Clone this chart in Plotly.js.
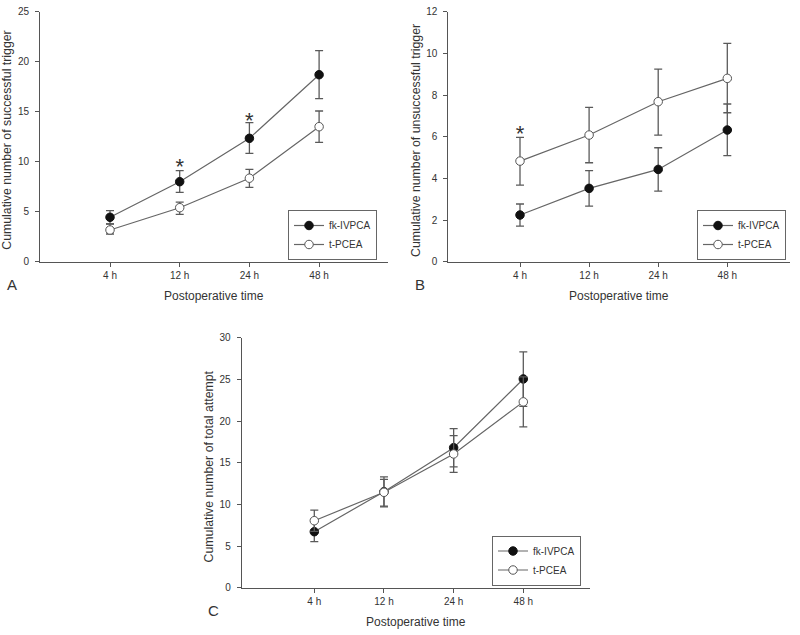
<!DOCTYPE html>
<html>
<head>
<meta charset="utf-8">
<script src="https://cdn.plot.ly/plotly-3.0.1.min.js"></script>
<style>html,body{margin:0;padding:0;background:#fff}#chart{width:800px;height:635px}</style>
</head>
<body>
<div id="chart"></div>
<script>
// ---------- data ----------
const categories = ['4 h', '12 h', '24 h', '48 h'];
const seriesNames = ['fk-IVPCA', 't-PCEA'];

// Panel A: successful trigger
const A_fk_mean  = [4.44, 8.00, 12.34, 18.70];
const A_fk_upper = [5.10, 9.10, 13.90, 21.10];
const A_fk_lower = [3.78, 6.94, 10.84, 16.30];
const A_t_mean   = [3.17, 5.40, 8.35, 13.50];
const A_t_upper  = [3.77, 5.96, 9.24, 15.07];
const A_t_lower  = [2.77, 4.74, 7.44, 11.94];
const A_sig_x = ['12 h', '24 h'];
const A_sig_y = [9.3, 13.9];

// Panel B: unsuccessful trigger
const B_fk_mean  = [2.24, 3.52, 4.43, 6.32];
const B_fk_upper = [2.77, 4.37, 5.47, 7.57];
const B_fk_lower = [1.71, 2.67, 3.39, 5.09];
const B_t_mean   = [4.83, 6.08, 7.68, 8.80];
const B_t_upper  = [5.97, 7.41, 9.24, 10.48];
const B_t_lower  = [3.68, 4.75, 6.08, 7.15];
const B_sig_x = ['4 h'];
const B_sig_y = [6.05];

// Panel C: total attempt
const C_fk_mean  = [6.72, 11.52, 16.80, 25.05];
const C_fk_upper = [7.92, 13.30, 19.10, 28.30];
const C_fk_lower = [5.52, 9.70, 14.50, 21.75];
const C_t_mean   = [8.04, 11.45, 16.05, 22.30];
const C_t_upper  = [9.32, 13.00, 18.25, 25.30];
const C_t_lower  = [6.76, 9.80, 13.85, 19.30];

const yTicksA = [0, 5, 10, 15, 20, 25];
const yTicksB = [0, 2, 4, 6, 8, 10, 12];
const yTicksC = [0, 5, 10, 15, 20, 25, 30];

const yTitles = ['Cumulative number of successful trigger',
                 'Cumulative number of unsuccessful trigger',
                 'Cumulative number of total attempt'];
const xTitle = 'Postoperative time';
const panelLetters = ['A', 'B', 'C'];

// ---------- styling ----------
const W = 800, H = 635;
const FONT = 'Liberation Sans, Arial, Helvetica, sans-serif';
const lineCol = '#666';
const axisCol = '#555';
const textCol = '#333';

function px2x(p) { return p / W; }
function px2y(p) { return 1 - p / H; }

function errTrace(mean, upper, lower, filled, xa, ya, leg, name) {
  return {
    type: 'scatter', mode: 'lines+markers', name: name,
    x: categories, y: mean, xaxis: xa, yaxis: ya, legend: leg,
    line: {color: lineCol, width: 1.2},
    marker: {size: 8.5, symbol: 'circle',
             color: filled ? '#111' : '#fff',
             line: {color: filled ? '#111' : '#555', width: 1}},
    error_y: {type: 'data', symmetric: false,
              array: upper.map((u, i) => u - mean[i]),
              arrayminus: mean.map((m, i) => m - lower[i]),
              color: '#5a5a5a', thickness: 1.3, width: 4},
    hoverinfo: 'skip'
  };
}
function sigTrace(xs, ys, xa, ya) {
  return {type: 'scatter', mode: 'text', x: xs, y: ys, text: xs.map(() => '*'),
          textposition: 'middle center', xaxis: xa, yaxis: ya, showlegend: false,
          textfont: {family: FONT, size: 22, color: '#333'}, hoverinfo: 'skip'};
}

const traces = [
  errTrace(A_fk_mean, A_fk_upper, A_fk_lower, true,  'x',  'y',  'legend',  seriesNames[0]),
  errTrace(A_t_mean,  A_t_upper,  A_t_lower,  false, 'x',  'y',  'legend',  seriesNames[1]),
  sigTrace(A_sig_x, A_sig_y, 'x', 'y'),
  errTrace(B_fk_mean, B_fk_upper, B_fk_lower, true,  'x2', 'y2', 'legend2', seriesNames[0]),
  errTrace(B_t_mean,  B_t_upper,  B_t_lower,  false, 'x2', 'y2', 'legend2', seriesNames[1]),
  sigTrace(B_sig_x, B_sig_y, 'x2', 'y2'),
  errTrace(C_fk_mean, C_fk_upper, C_fk_lower, true,  'x3', 'y3', 'legend3', seriesNames[0]),
  errTrace(C_t_mean,  C_t_upper,  C_t_lower,  false, 'x3', 'y3', 'legend3', seriesNames[1])
];

// panel geometry in pixels: left, right, top, bottom of axes; first-tick px & spacing
const panels = [
  {L: 40,    R: 388, T: 11.7,  B: 261.7, t0: 110,   s: 69.7,  ymax: 25, ticks: yTicksA},
  {L: 448.3, R: 790, T: 11.7,  B: 261.7, t0: 520,   s: 69.1,  ymax: 12, ticks: yTicksB},
  {L: 241.7, R: 590, T: 337.7, B: 587.7, t0: 314.3, s: 69.67, ymax: 30, ticks: yTicksC}
];

const layout = {
  width: W, height: H, margin: {l: 0, r: 0, t: 0, b: 0},
  paper_bgcolor: '#fff', plot_bgcolor: '#fff',
  font: {family: FONT, size: 10, color: textCol},
  showlegend: true,
  annotations: []
};

panels.forEach((p, i) => {
  const sfx = i === 0 ? '' : String(i + 1);
  layout['xaxis' + sfx] = {
    type: 'category', domain: [px2x(p.L), px2x(p.R)],
    range: [(p.L - p.t0) / p.s, (p.R - p.t0) / p.s],
    anchor: 'y' + sfx, showline: true, linecolor: axisCol, linewidth: 1,
    ticks: 'outside', ticklen: 4, tickcolor: axisCol, tickwidth: 1,
    showgrid: false, zeroline: false, fixedrange: true,
    tickfont: {family: FONT, size: 10, color: textCol}
  };
  layout['yaxis' + sfx] = {
    domain: [px2y(p.B), px2y(p.T)], range: [0, p.ymax],
    anchor: 'x' + sfx, showline: true, linecolor: axisCol, linewidth: 1,
    ticks: 'outside', ticklen: 4, tickcolor: axisCol, tickwidth: 1,
    tickmode: 'array', tickvals: p.ticks,
    showgrid: false, zeroline: false, fixedrange: true, ticklabelstandoff: 4,
    tickfont: {family: FONT, size: 10, color: textCol}
  };
  // y axis title
  layout.annotations.push({
    xref: 'paper', yref: 'paper', x: px2x(p.L - 33), y: px2y((p.T + p.B) / 2 + 4),
    text: yTitles[i], textangle: -90, showarrow: false, xanchor: 'center', yanchor: 'middle',
    font: {family: FONT, size: 12.3, color: textCol}
  });
  // x axis title
  layout.annotations.push({
    xref: 'paper', yref: 'paper', x: px2x((p.L + p.R) / 2), y: px2y(p.B + 34),
    text: xTitle, showarrow: false, xanchor: 'center', yanchor: 'middle',
    font: {family: FONT, size: 12, color: textCol}
  });
  // panel letter
  layout.annotations.push({
    xref: 'paper', yref: 'paper', x: px2x(p.L - 28), y: px2y(p.B + 23),
    text: panelLetters[i], showarrow: false, xanchor: 'center', yanchor: 'middle',
    font: {family: FONT, size: 15, color: textCol}
  });
});

const legBase = {xanchor: 'right', yanchor: 'top', bgcolor: '#fff', bordercolor: '#666',
                 borderwidth: 1, font: {family: FONT, size: 10, color: textCol},
                 itemwidth: 30, tracegroupgap: 0};
layout.legend  = Object.assign({}, legBase, {x: px2x(377), y: px2y(210)});
layout.legend2 = Object.assign({}, legBase, {x: px2x(786), y: px2y(210)});
layout.legend3 = Object.assign({}, legBase, {x: px2x(581), y: px2y(535.5)});

Plotly.newPlot('chart', traces, layout, {staticPlot: true, displayModeBar: false});
</script>
</body>
</html>
